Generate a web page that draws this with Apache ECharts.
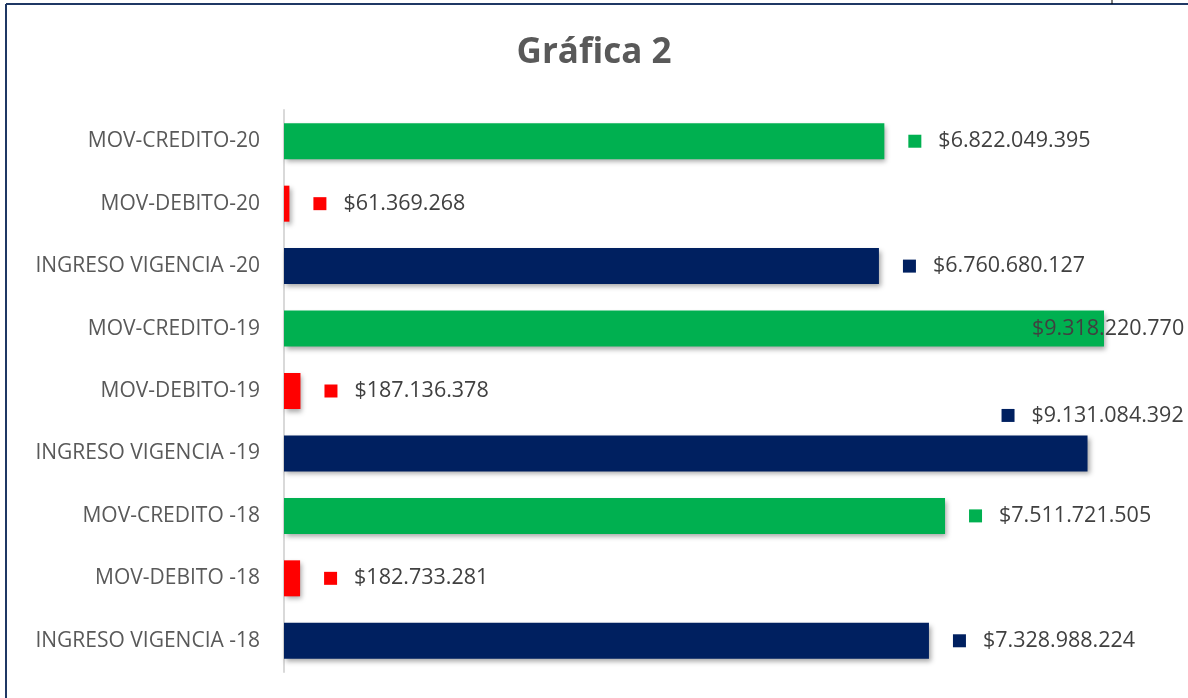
<!DOCTYPE html>
<html>
<head>
<meta charset="utf-8">
<script src="https://cdn.jsdelivr.net/npm/echarts@6/dist/echarts.min.js"></script>
<style>
html,body{margin:0;padding:0;background:#fff;}
#chart{width:1188px;height:698px;}
</style>
</head>
<body>
<div id="chart"></div>
<script>
const categories = ['INGRESO VIGENCIA -18','MOV-DEBITO -18','MOV-CREDITO -18','INGRESO VIGENCIA -19','MOV-DEBITO-19','MOV-CREDITO-19','INGRESO VIGENCIA -20','MOV-DEBITO-20','MOV-CREDITO-20'];
const ingreso = [7328988224, 9131084392, 6760680127];
const debito = [182733281, 187136378, 61369268];
const credito = [7511721505, 9318220770, 6822049395];
const title = 'Gráfica 2';

const colors = { ingreso: '#002060', debito: '#FF0000', credito: '#00B050' };

function fmt(v) {
  return '$' + String(Math.round(v)).replace(/\B(?=(\d{3})+(?!\d))/g, '.');
}

// special label placements (manually moved labels in the original)
const labelOffsets = { 3: [-110, -38], 5: [-126, 0] };

function buildSeries(name, values, slot, color) {
  const data = categories.map(() => null);
  values.forEach((v, i) => {
    const idx = i * 3 + slot;
    const item = { value: v };
    if (labelOffsets[idx]) item.label = { offset: labelOffsets[idx] };
    data[idx] = item;
  });
  return {
    name: name,
    type: 'bar',
    stack: 'all',
    barWidth: 36,
    data: data,
    itemStyle: {
      color: color,
      shadowColor: 'rgba(0,0,0,0.35)',
      shadowBlur: 5,
      shadowOffsetX: 2,
      shadowOffsetY: 3
    },
    label: {
      show: true,
      position: 'right',
      distance: 24,
      formatter: p => '{sq|}{t|' + fmt(p.value) + '}',
      rich: {
        sq: { width: 13, height: 13, backgroundColor: color },
        t: { fontFamily: 'Open Sans', fontSize: 21.5, color: '#404040', padding: [0, 0, 0, 17] }
      }
    }
  };
}

const chart = echarts.init(document.getElementById('chart'));
chart.setOption({
  animation: false,
  backgroundColor: '#fff',
  title: {
    text: title,
    left: 'center',
    top: 31,
    textStyle: { fontFamily: 'Open Sans', fontSize: 35, fontWeight: 'bold', color: '#595959' }
  },
  grid: { left: 284, right: 24, top: 110, bottom: 26, containLabel: false },
  xAxis: {
    type: 'value', min: 0, max: 10000000000,
    show: false, splitLine: { show: false }
  },
  yAxis: {
    type: 'category',
    data: categories,
    axisLine: { lineStyle: { color: '#D9D9D9', width: 2 } },
    axisTick: { show: false },
    axisLabel: { margin: 24, fontFamily: 'Open Sans', fontSize: 21, color: '#595959' }
  },
  series: [
    buildSeries('Ingreso', ingreso, 0, colors.ingreso),
    buildSeries('Débito', debito, 1, colors.debito),
    buildSeries('Crédito', credito, 2, colors.credito)
  ],
  graphic: [
    { type: 'line', shape: { x1: 6, y1: 4, x2: 1188, y2: 4 }, style: { stroke: '#1F3864', lineWidth: 2 } },
    { type: 'line', shape: { x1: 6, y1: 4, x2: 6, y2: 698 }, style: { stroke: '#1F3864', lineWidth: 2 } },
    { type: 'line', shape: { x1: 1112, y1: 0, x2: 1112, y2: 4 }, style: { stroke: '#000', lineWidth: 1 } }
  ]
});
</script>
</body>
</html>
